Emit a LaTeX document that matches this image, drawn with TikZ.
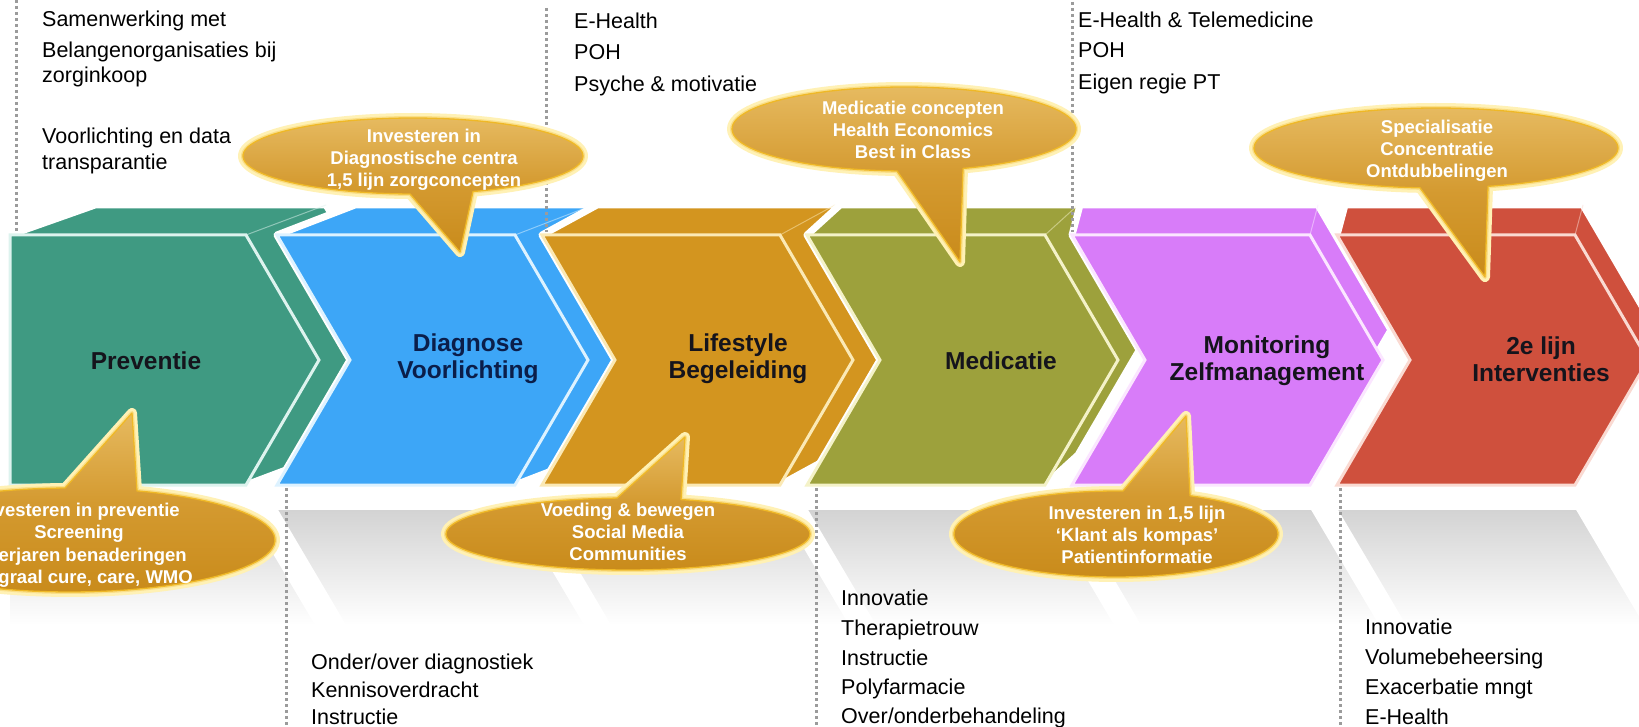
\documentclass[tikz,border=0pt]{standalone}
\usepackage{fontspec}
\setmainfont{Liberation Sans}
\definecolor{cGreen}{HTML}{3F9A82}
\definecolor{cBlue}{HTML}{3DA6F7}
\definecolor{cOrange}{HTML}{D3951F}
\definecolor{cOlive}{HTML}{9DA13C}
\definecolor{cPink}{HTML}{D87CF9}
\definecolor{cRed}{HTML}{CF503D}
\definecolor{lnGreen}{HTML}{DDF3EE}
\definecolor{lnBlue}{HTML}{DDF2FF}
\definecolor{lnOrange}{HTML}{FBE9B5}
\definecolor{lnOlive}{HTML}{F4F2C8}
\definecolor{lnPink}{HTML}{FBE6FF}
\definecolor{lnRed}{HTML}{FADAD2}
\definecolor{goldTop}{HTML}{E6BA60}
\definecolor{goldMid}{HTML}{D49A30}
\definecolor{goldBot}{HTML}{C98B1B}
\definecolor{goldRim}{HTML}{EFB826}
\definecolor{glowCol}{HTML}{FFF1B5}
\definecolor{dotGray}{HTML}{9B9B9B}
\definecolor{labelInk}{HTML}{15141C}
\definecolor{navyInk}{HTML}{0B1E4A}
\definecolor{refGray}{HTML}{D3D3D3}
\definecolor{shadowInk}{HTML}{7A5210}

\tikzset{
  bodytext/.style={anchor=base west, inner sep=0pt, font=\fontsize{21.5}{25}\selectfont, text=black},
  chevlabel/.style={align=center, inner sep=0pt, font=\bfseries\fontsize{24.5}{27}\selectfont, text=labelInk},
  bubtext/.style={align=center, inner sep=0pt, font=\bfseries\fontsize{18.5}{22}\selectfont, text=white},
  bubline/.style={inner sep=0pt, font=\bfseries\fontsize{18.5}{22}\selectfont, text=white},
  dotline/.style={draw=dotGray, line width=3pt, dash pattern=on 3pt off 3pt},
  bubglow/.style={draw=glowCol, line width=10pt, line join=round},
  bubglow2/.style={draw=glowCol!50!goldRim, line width=4pt, line join=round, draw opacity=.6},
  bubfill/.style={top color=goldTop, bottom color=goldBot, middle color=goldMid},
  bubrim/.style={draw=goldRim, line width=1.3pt, line join=round},
}

% #1 x0, #2 depth shift, #3 fill, #4 outline
\newcommand\chevron[4]{%
  \fill[#3, draw=white, line width=7pt, line join=round]
    (#1,485) -- (#1+73,360) -- (#1,235) -- (#1+#2,205) -- (#1+238+#2,205)
    -- (#1+311+#2,330) -- (#1+238+#2,455) -- (#1+238,485) -- cycle;
  \draw[#4, line width=3pt, fill=#3]
    (#1,235) -- (#1+238,235) -- (#1+311,360) -- (#1+238,485) -- (#1,485) -- (#1+73,360) -- cycle;
  \draw[#4, line width=1pt, opacity=.5] (#1+238,235) -- (#1+238+#2,205);
}

% bubble outline, parameters in \bcx \bcy \brx \bry \aone \atwo \btx \bty
\newcommand\bubshape[1]{%
  \path[#1] plot[variable=\t, domain=\aone:\atwo, samples=90]
    ({\bcx+\brx*cos(\t)},{\bcy+\bry*sin(\t)}) -- (\btx,\bty) -- cycle;
}
\newcommand\bubblepaint{%
  \bubshape{bubglow}%
  \bubshape{bubglow2}%
  \bubshape{bubfill}%
  \bubshape{bubrim}%
}
% cx, cy, rx, ry, xb1, xb2, tipx, tipy
\newcommand\bubbledown[8]{%
  \def\bcx{#1}\def\bcy{#2}\def\brx{#3}\def\bry{#4}\def\btx{#7}\def\bty{#8}%
  \pgfmathsetmacro\aone{acos((#5-#1)/#3)}%
  \pgfmathsetmacro\atwo{acos((#6-#1)/#3)+360}%
  \bubblepaint
}
\newcommand\bubbleup[8]{%
  \def\bcx{#1}\def\bcy{#2}\def\brx{#3}\def\bry{#4}\def\btx{#7}\def\bty{#8}%
  \pgfmathsetmacro\aone{360-acos((#6-#1)/#3)}%
  \pgfmathsetmacro\atwo{720-acos((#5-#1)/#3)}%
  \bubblepaint
}

\begin{document}
\begin{tikzpicture}[x=1pt,y=-1pt]
\useasboundingbox (0,0) rectangle (1639,727);
\clip (0,0) rectangle (1639,727);
\fill[white] (0,0) rectangle (1639,727);

% reflection band
\shade[top color=refGray, bottom color=white] (10,510) rectangle (1639,625);
\foreach \a/\b in {246/277, 515/542, 780/807, 1045/1072, 1310/1337, 1575/1700}{
  \fill[white] (\a,508) -- (\b,508) -- (\b+75,635) -- (\a+75,635) -- cycle;
}

% chevrons
\fill[cGreen, draw=white, line width=7pt, line join=round]
  (10,485) -- (10,235) -- (95,205) -- (326,205) -- (404,330) -- (326,455) -- (246,485) -- cycle;
\draw[lnGreen, line width=3pt, fill=cGreen]
  (10,235) -- (246,235) -- (319,360) -- (246,485) -- (10,485) -- cycle;
\draw[lnGreen, line width=1pt, opacity=.5] (246,235) -- (326,205);
\chevron{277}{78}{cBlue}{lnBlue}
\chevron{542}{55}{cOrange}{lnOrange}
\chevron{807}{33}{cOlive}{lnOlive}
\chevron{1072}{8}{cPink}{lnPink}
\chevron{1337}{8}{cRed}{lnRed}

% chevron labels
\node[chevlabel] (lPrev) at (146,361) {Preventie};
\node[chevlabel, text=navyInk] (lDiag) at (468,359) {Diagnose\\Voorlichting};
\node[chevlabel] (lLife) at (738,359) {Lifestyle\\Begeleiding};
\node[chevlabel] (lMed) at (1001,361) {Medicatie};
\node[chevlabel] (lMon) at (1267,361) {Monitoring\\Zelfmanagement};
\node[chevlabel] (lTwee) at (1541,359) {2e lijn\\Interventies};

% dotted separators
\coordinate (d1a) at (16,0);    \coordinate (d1b) at (16,232);
\coordinate (d2a) at (546,8);   \coordinate (d2b) at (546,232);
\coordinate (d3a) at (1072,2);  \coordinate (d3b) at (1072,232);
\coordinate (d4a) at (286,488); \coordinate (d4b) at (286,727);
\coordinate (d5a) at (816,488); \coordinate (d5b) at (816,727);
\coordinate (d6a) at (1340,488);\coordinate (d6b) at (1340,727);
\draw[dotline] (d1a) -- (d1b);
\draw[dotline] (d2a) -- (d2b);
\draw[dotline] (d3a) -- (d3b);
\draw[dotline] (d4a) -- (d4b);
\draw[dotline] (d5a) -- (d5b);
\draw[dotline] (d6a) -- (d6b);

% callout bubbles
\bubbledown{413}{156}{170}{38}{410}{473}{460}{252}
\node[bubtext] (b1) at (424,160) {Investeren in\\Diagnostische centra\\1,5 lijn zorgconcepten};

\bubbleup{70}{540}{205}{52}{65}{137}{132}{413}
\node[bubline, anchor=base east] (b2a) at (180,516) {vesteren in preventie};
\node[bubline, anchor=base] (b2b) at (79,538) {Screening};
\node[bubline, anchor=base east] (b2c) at (187,561) {erjaren benaderingen};
\node[bubline, anchor=base east] (b2d) at (193,583) {graal cure, care, WMO};

\bubbleup{628}{534}{182}{36}{617}{681}{685}{437}
\node[bubtext] (b3) at (628,532) {Voeding \& bewegen\\Social Media\\Communities};

\bubbledown{904}{129}{172}{42}{897}{963}{960}{262}
\node[bubtext] (b4) at (913,130) {Medicatie concepten\\Health Economics\\Best in Class};

\bubbleup{1116}{534}{162}{43}{1123}{1190}{1186}{416}
\node[bubtext] (b5) at (1137,535) {Investeren in 1,5 lijn\\‘Klant als kompas’\\Patientinformatie};

\bubbledown{1436}{148}{182}{40}{1420}{1488}{1485}{277}
\node[bubtext] (b6) at (1437,151) {Specialisatie\\Concentratie\\Ontdubbelingen};

% top texts
\node[bodytext] (t11) at (42,27) {Samenwerking met};
\node[bodytext] (t12) at (42,58) {Belangenorganisaties bij};
\node[bodytext] (t13) at (42,83) {zorginkoop};
\node[bodytext] (t14) at (42,144) {Voorlichting en data};
\node[bodytext] (t15) at (42,170) {transparantie};

\node[bodytext] (t21) at (574,29) {E-Health};
\node[bodytext] (t22) at (574,60) {POH};
\node[bodytext] (t23) at (574,92) {Psyche \& motivatie};

\node[bodytext] (t31) at (1078,28) {E-Health \& Telemedicine};
\node[bodytext] (t32) at (1078,58) {POH};
\node[bodytext] (t33) at (1078,90) {Eigen regie PT};

% bottom texts
\node[bodytext] (u11) at (311,669) {Onder/over diagnostiek};
\node[bodytext] (u12) at (311,697) {Kennisoverdracht};
\node[bodytext] (u13) at (311,724) {Instructie};

\node[bodytext] (u21) at (841,605) {Innovatie};
\node[bodytext] (u22) at (841,635) {Therapietrouw};
\node[bodytext] (u23) at (841,665) {Instructie};
\node[bodytext] (u24) at (841,694) {Polyfarmacie};
\node[bodytext] (u25) at (841,723) {Over/onderbehandeling};

\node[bodytext] (u31) at (1365,634) {Innovatie};
\node[bodytext] (u32) at (1365,664) {Volumebeheersing};
\node[bodytext] (u33) at (1365,694) {Exacerbatie mngt};
\node[bodytext] (u34) at (1365,724) {E-Health};
\end{tikzpicture}
\end{document}
